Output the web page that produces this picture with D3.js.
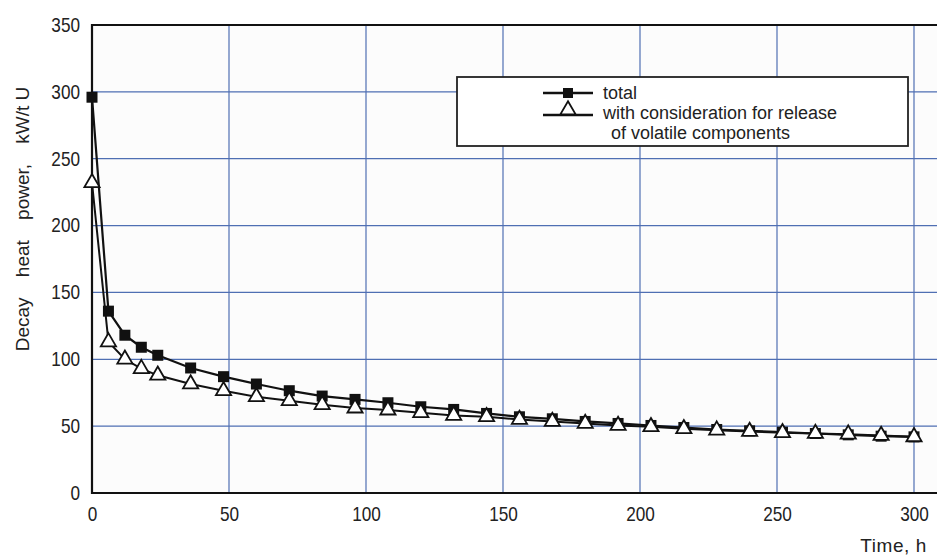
<!DOCTYPE html>
<html>
<head>
<meta charset="utf-8">
<script src="https://cdn.jsdelivr.net/npm/d3@7"></script>
<style>
  body { margin: 0; background: #fff; }
  svg { display: block; font-family: "Liberation Sans", Arial, sans-serif; }
</style>
</head>
<body>
<svg></svg>
<script>
  // hours after shutdown
  const hours = [0, 6, 12, 18, 24, 36, 48, 60, 72, 84, 96, 108, 120, 132, 144, 156,
    168, 180, 192, 204, 216, 228, 240, 252, 264, 276, 288, 300];
  // kW/t U
  const total = [296, 136, 118, 109, 103, 93.5, 87, 81.5, 76.5, 72.5, 70, 67.5, 64.5, 62.5,
    59.5, 57, 55.5, 53.5, 52, 50.5, 49, 47.5, 46.5, 45.5, 44.5, 43.5, 42.5, 42];
  const volatile = [232, 113, 100, 93, 88, 81.5, 76.5, 72, 69, 66, 63.5, 62, 60, 58,
    57, 55, 53.5, 52, 50.5, 49.5, 48, 47, 46, 45, 44.5, 44, 43, 42];
  const xTicks = [0, 50, 100, 150, 200, 250, 300];
  const yTicks = [0, 50, 100, 150, 200, 250, 300, 350];
  const yTitleWords = ["Decay", "heat", "power,", "kW/t U"];
  const legendLabels = ["total", "with consideration for release", "of volatile components"];

  const width = 937;
  const height = 555;
  const squeeze = 0.86; // tick digits are narrow in the original

  const svg = d3.select("svg")
    .attr("width", width)
    .attr("height", height);

  const x = d3.scaleLinear().domain([0, 300]).range([92, 914]);
  const y = d3.scaleLinear().domain([0, 350]).range([493, 25]);
  const right = width + 2;

  // plot background
  svg.append("rect")
    .attr("x", x(0)).attr("y", y(350))
    .attr("width", right - x(0)).attr("height", y(0) - y(350))
    .attr("fill", "#fcfcfc");

  // grid
  svg.selectAll(".vgrid")
    .data(xTicks.filter(d => d > 0))
    .enter().append("line")
    .attr("x1", d => x(d)).attr("x2", d => x(d))
    .attr("y1", y(350)).attr("y2", y(0))
    .attr("stroke", "#4f6fb3")
    .attr("stroke-width", 1.2);

  svg.selectAll(".hgrid")
    .data(yTicks.filter(d => d > 0 && d < 350))
    .enter().append("line")
    .attr("x1", x(0)).attr("x2", right)
    .attr("y1", d => y(d)).attr("y2", d => y(d))
    .attr("stroke", "#4f6fb3")
    .attr("stroke-width", 1.2);

  // frame
  svg.append("line")
    .attr("x1", x(0)).attr("x2", right)
    .attr("y1", y(350)).attr("y2", y(350))
    .attr("stroke", "#111").attr("stroke-width", 2);

  const xAxis = svg.append("g")
    .attr("transform", `translate(0,${y(0)})`)
    .call(d3.axisBottom(x).tickValues(xTicks).tickSize(0).tickPadding(14));
  xAxis.select(".domain").remove();
  xAxis.append("line")
    .attr("x1", x(0) - 1).attr("x2", right)
    .attr("stroke", "#111").attr("stroke-width", 2.2);
  xAxis.selectAll(".tick text")
    .attr("transform", `scale(${squeeze},1)`);

  const yAxis = svg.append("g")
    .attr("transform", `translate(${x(0)},0)`)
    .call(d3.axisLeft(y).tickValues(yTicks).tickSize(0));
  yAxis.select(".domain").remove();
  yAxis.append("line")
    .attr("y1", y(350) - 1).attr("y2", y(0) + 1)
    .attr("stroke", "#111").attr("stroke-width", 2.2);
  yAxis.selectAll(".tick text")
    .attr("x", -12 / squeeze)
    .attr("transform", `scale(${squeeze},1)`);

  svg.selectAll(".tick text")
    .attr("fill", "#222")
    .attr("font-size", 20);

  // axis titles
  const yTitle = svg.append("text")
    .attr("transform", `translate(29,219) rotate(-90)`)
    .attr("text-anchor", "middle")
    .attr("font-size", 19)
    .attr("fill", "#222");
  yTitle.selectAll("tspan")
    .data(yTitleWords)
    .enter().append("tspan")
    .attr("dx", (d, i) => i === 0 ? 0 : 15)
    .text((d, i) => (i === 0 ? "" : " ") + d);

  svg.append("text")
    .attr("x", 927).attr("y", 552)
    .attr("text-anchor", "end")
    .attr("font-size", 19)
    .attr("letter-spacing", "0.6px")
    .attr("fill", "#222")
    .text("Time, h");

  // series
  const line = d3.line()
    .x((d, i) => x(hours[i]))
    .y(d => y(d));

  svg.append("path")
    .datum(total)
    .attr("d", line)
    .attr("fill", "none")
    .attr("stroke", "#111")
    .attr("stroke-width", 2.2);

  svg.selectAll(".sq")
    .data(total)
    .enter().append("rect")
    .attr("x", (d, i) => x(hours[i]) - 5.5)
    .attr("y", d => y(d) - 5.5)
    .attr("width", 11).attr("height", 11)
    .attr("fill", "#111");

  svg.append("path")
    .datum(volatile)
    .attr("d", line)
    .attr("fill", "none")
    .attr("stroke", "#111")
    .attr("stroke-width", 2);

  const tri = d3.symbol().type(d3.symbolTriangle).size(100);
  svg.selectAll(".tri")
    .data(volatile)
    .enter().append("path")
    .attr("transform", (d, i) => `translate(${x(hours[i])},${y(d)})`)
    .attr("d", tri)
    .attr("fill", "#fff")
    .attr("stroke", "#111")
    .attr("stroke-width", 1.8);

  // legend
  const lg = svg.append("g");
  lg.append("rect")
    .attr("x", 457).attr("y", 77)
    .attr("width", 451).attr("height", 69)
    .attr("fill", "#fff")
    .attr("stroke", "#222")
    .attr("stroke-width", 1.8);

  lg.append("line")
    .attr("x1", 543).attr("x2", 593).attr("y1", 93).attr("y2", 93)
    .attr("stroke", "#111").attr("stroke-width", 2.5);
  lg.append("rect")
    .attr("x", 563).attr("y", 88).attr("width", 10).attr("height", 10)
    .attr("fill", "#111");

  lg.append("line")
    .attr("x1", 543).attr("x2", 593).attr("y1", 115).attr("y2", 115)
    .attr("stroke", "#111").attr("stroke-width", 2.5);
  lg.append("path")
    .attr("transform", "translate(568,110)")
    .attr("d", tri)
    .attr("fill", "#fff")
    .attr("stroke", "#111")
    .attr("stroke-width", 1.8);

  lg.selectAll(".lt")
    .data(legendLabels)
    .enter().append("text")
    .attr("x", (d, i) => i === 2 ? 611 : 603)
    .attr("y", (d, i) => 99 + i * 20)
    .attr("font-size", 18)
    .attr("fill", "#222")
    .text(d => d);
</script>
</body>
</html>
